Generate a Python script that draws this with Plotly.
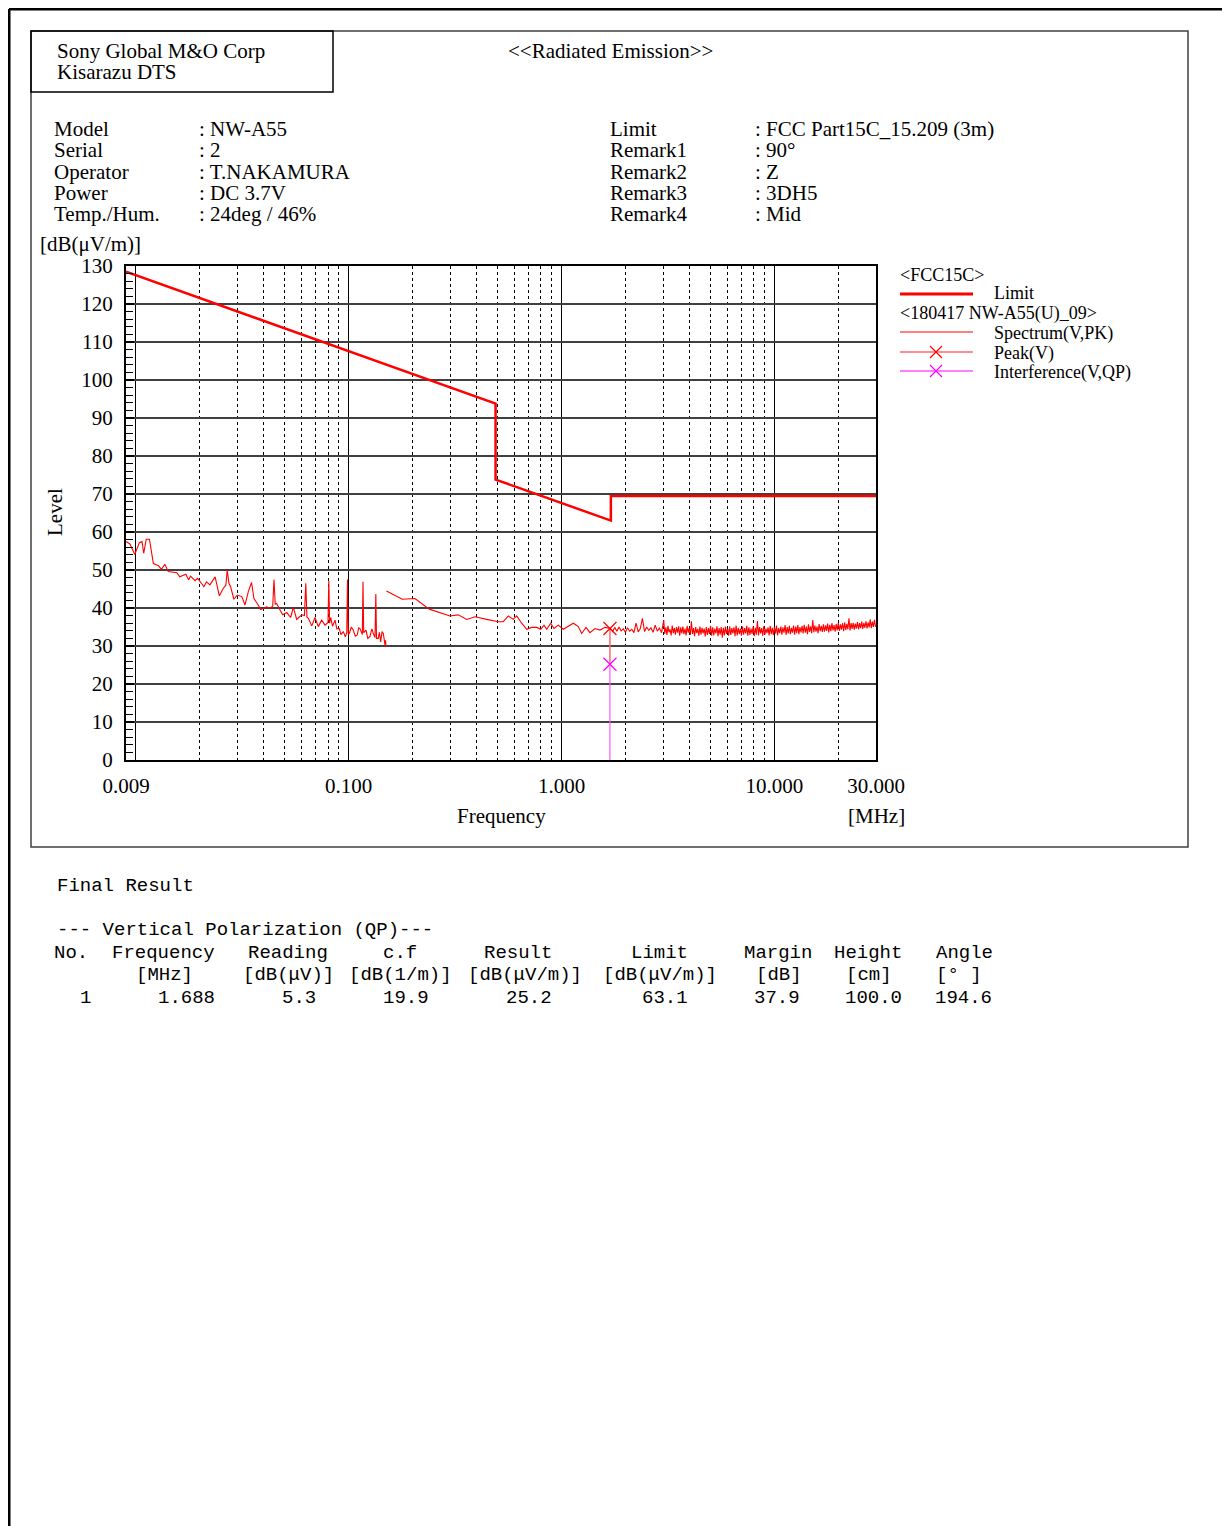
"""Radiated emission report page (9 kHz - 30 MHz, vertical polarization)."""

import math

import plotly.graph_objects as go

# ---- data -------------------------------------------------------------------

# FCC Part 15C 15.209 (3m) limit, MHz / dB(uV/m)
limit_freq = [0.009, 0.490, 0.490, 1.705, 1.705, 30.0]
limit_level = [128.5, 93.8, 73.8, 63.0, 69.5, 69.5]

# spectrum (V, PK), loop antenna range 9 kHz - 150 kHz
spec_a_freq = [
    0.0090, 0.0094, 0.0099, 0.0104, 0.0107, 0.0109, 0.0112, 0.0116, 0.0121, 0.0128,
    0.0132, 0.0137, 0.0142, 0.0156, 0.0161, 0.0172, 0.0177, 0.0181, 0.0190, 0.0195,
    0.0200, 0.0209, 0.0215, 0.0223, 0.0236, 0.0247, 0.0258, 0.0265, 0.0269, 0.0274,
    0.0279, 0.0289, 0.0300, 0.0315, 0.0326, 0.0338, 0.0350, 0.0359, 0.0376, 0.0386,
    0.0412, 0.0427, 0.0440, 0.0446, 0.0452, 0.0459, 0.0476, 0.0490, 0.0512, 0.0534,
    0.0550, 0.0570, 0.0602, 0.0620, 0.0629, 0.0637, 0.0647, 0.0671, 0.0695, 0.0720,
    0.0747, 0.0775, 0.0800, 0.0807, 0.0814, 0.0824, 0.0840, 0.0863, 0.0880, 0.0904,
    0.0920, 0.0944, 0.0965, 0.0980, 0.0988, 0.0996, 0.1007, 0.1030, 0.1051, 0.1075,
    0.1098, 0.1115, 0.1130, 0.1160, 0.1168, 0.1177, 0.1207, 0.1230, 0.1260, 0.1285,
    0.1306, 0.1330, 0.1342, 0.1352, 0.1378, 0.1395, 0.1414, 0.1435, 0.1455, 0.1470,
    0.1482, 0.1490, 0.1498,
]
spec_a_level = [
    57.5, 56.8, 54.1, 57.2, 57.5, 54.4, 58.1, 58.1, 51.7, 51.1,
    50.2, 51.5, 49.6, 49.3, 48.2, 48.9, 47.4, 48.4, 47.2, 47.8,
    47.1, 45.6, 46.9, 46.1, 48.2, 43.2, 45.2, 46.0, 50.0, 46.5,
    45.6, 42.3, 43.4, 43.0, 40.8, 44.3, 46.7, 42.5, 40.8, 39.6,
    40.3, 39.9, 40.5, 47.5, 41.0, 41.2, 39.5, 38.2, 38.8, 37.5,
    40.2, 37.0, 38.2, 38.0, 46.5, 37.6, 37.3, 35.3, 37.5, 35.1,
    36.8, 35.5, 36.2, 47.1, 36.0, 37.5, 35.2, 36.8, 34.5, 34.6,
    33.0, 33.8, 32.4, 33.5, 47.5, 33.0, 33.3, 35.0, 34.2, 32.6,
    32.9, 34.8, 34.6, 33.0, 46.9, 33.5, 34.2, 32.0, 32.5, 34.5,
    33.3, 32.2, 43.7, 32.0, 32.0, 33.6, 31.1, 33.8, 33.3, 30.8,
    30.3, 31.5, 29.7,
]

# spectrum (V, PK), 150 kHz - 3 MHz
spec_b_freq = [
    0.1505, 0.1786, 0.2049, 0.2392, 0.2992, 0.3273, 0.3585, 0.3922, 0.4451, 0.5045,
    0.5326, 0.5622, 0.5935, 0.6157, 0.6499, 0.6861, 0.7242, 0.7645, 0.7983, 0.8273,
    0.8518, 0.8892, 0.9215, 0.9654, 1.019, 1.076, 1.136, 1.199, 1.243, 1.303,
    1.360, 1.436, 1.516, 1.600, 1.676,
    1.698, 1.738, 1.778, 1.820, 1.862, 1.905, 1.950, 1.995, 2.042, 2.089,
    2.138, 2.188, 2.239, 2.291, 2.344, 2.399, 2.455, 2.512, 2.570, 2.630,
    2.692, 2.754, 2.818, 2.884, 2.951,
]
spec_b_level = [
    44.5, 42.3, 42.5, 39.7, 37.9, 38.2, 37.0, 37.7, 37.0, 36.4,
    36.4, 37.9, 37.0, 37.9, 36.0, 34.4, 34.9, 34.9, 34.4, 35.5,
    34.4, 36.0, 34.6, 35.5, 34.4, 35.1, 36.0, 35.1, 33.3, 34.9,
    33.5, 34.6, 34.2, 34.9, 34.6,
    34.6, 33.8, 34.9, 33.9, 35.0, 34.0, 34.5, 33.6, 34.8, 33.9,
    34.4, 33.5, 36.0, 33.7, 34.6, 37.3, 33.8, 35.0, 34.1, 34.8,
    33.6, 35.5, 33.9, 34.7, 33.5,
]

# spectrum (V, PK), 3 MHz - 30 MHz (dense noise floor)
spec_c_freq = [
    3.020, 3.055, 3.090, 3.126, 3.162, 3.199, 3.236, 3.273, 3.311, 3.350,
    3.388, 3.428, 3.467, 3.508, 3.548, 3.589, 3.631, 3.673, 3.715, 3.758,
    3.802, 3.846, 3.890, 3.936, 3.981, 4.027, 4.074, 4.121, 4.169, 4.217,
    4.266, 4.315, 4.365, 4.416, 4.467, 4.519, 4.571, 4.624, 4.677, 4.732,
    4.786, 4.842, 4.898, 4.955, 5.012, 5.070, 5.129, 5.188, 5.248, 5.309,
    5.370, 5.433, 5.495, 5.559, 5.623, 5.689, 5.754, 5.821, 5.888, 5.957,
    6.026, 6.095, 6.166, 6.237, 6.310, 6.383, 6.457, 6.531, 6.607, 6.683,
    6.761, 6.839, 6.918, 6.998, 7.079, 7.161, 7.244, 7.328, 7.413, 7.499,
    7.586, 7.674, 7.762, 7.852, 7.943, 8.035, 8.128, 8.222, 8.318, 8.414,
    8.511, 8.610, 8.710, 8.810, 8.913, 9.016, 9.120, 9.226, 9.333, 9.441,
    9.550, 9.661, 9.772, 9.886, 10.00, 10.12, 10.23, 10.35, 10.47, 10.59,
    10.72, 10.84, 10.96, 11.09, 11.22, 11.35, 11.48, 11.61, 11.75, 11.88,
    12.02, 12.16, 12.30, 12.44, 12.59, 12.73, 12.88, 13.03, 13.18, 13.33,
    13.49, 13.64, 13.80, 13.96, 14.13, 14.29, 14.45, 14.62, 14.79, 14.96,
    15.14, 15.31, 15.49, 15.67, 15.85, 16.03, 16.22, 16.41, 16.60, 16.79,
    16.98, 17.18, 17.38, 17.58, 17.78, 17.99, 18.20, 18.41, 18.62, 18.84,
    19.05, 19.28, 19.50, 19.72, 19.95, 20.18, 20.42, 20.65, 20.89, 21.14,
    21.38, 21.63, 21.88, 22.13, 22.39, 22.65, 22.91, 23.17, 23.44, 23.71,
    23.99, 24.27, 24.55, 24.83, 25.12, 25.41, 25.70, 26.00, 26.30, 26.61,
    26.92, 27.23, 27.54, 27.86, 28.18, 28.51, 28.84, 29.17, 29.51, 29.85,
    30.00,
]
spec_c_level = [
    36.8, 33.2, 34.9, 32.9, 35.3, 33.6, 34.4, 32.8, 35.4, 33.4,
    34.7, 33.0, 35.0, 33.5, 35.2, 32.7, 34.9, 33.3, 35.1, 33.1,
    34.6, 32.8, 35.3, 33.5, 34.8, 32.9, 36.5, 33.2, 34.7, 32.6,
    35.0, 33.4, 34.5, 32.7, 35.1, 33.0, 34.8, 33.3, 34.6, 32.5,
    35.0, 32.9, 34.7, 33.2, 35.3, 32.7, 34.9, 32.8, 34.6, 33.3,
    35.2, 32.6, 34.7, 33.0, 35.0, 32.2, 34.8, 32.8, 35.1, 33.2,
    34.5, 32.7, 35.2, 32.9, 34.7, 33.3, 34.9, 32.6, 35.4, 32.8,
    34.8, 33.1, 34.6, 32.7, 35.1, 33.0, 34.7, 33.3, 35.3, 32.7,
    34.9, 32.9, 34.6, 33.2, 35.1, 32.6, 34.8, 33.0, 36.6, 32.8,
    35.0, 33.3, 34.7, 32.7, 35.2, 33.0, 34.6, 33.4, 34.9, 32.8,
    35.3, 33.1, 34.8, 32.9, 35.0, 33.3, 35.4, 32.8, 34.7, 33.4,
    35.1, 33.0, 34.9, 33.5, 35.5, 32.9, 35.0, 33.3, 35.3, 33.1,
    34.8, 33.5, 35.4, 33.0, 35.1, 33.4, 35.5, 33.1, 35.0, 33.6,
    35.3, 33.3, 35.6, 33.5, 35.1, 33.1, 35.7, 33.7, 35.2, 33.4,
    36.8, 33.6, 35.4, 33.8, 35.1, 33.4, 35.8, 33.9, 35.3, 33.7,
    35.7, 33.8, 35.4, 34.0, 35.9, 33.6, 35.6, 33.9, 36.0, 34.1,
    35.5, 33.8, 35.8, 34.1, 36.1, 34.0, 35.7, 34.3, 36.0, 33.9,
    36.2, 34.2, 35.8, 34.4, 37.3, 34.1, 36.0, 34.5, 36.1, 34.3,
    35.9, 34.6, 36.3, 34.4, 36.0, 34.7, 36.4, 34.5, 36.1, 34.8,
    36.5, 34.6, 36.2, 34.9, 37.0, 34.7, 36.4, 35.0, 36.9, 35.1,
    35.6,
]

# final result (QP)
qp_no = [1]
qp_freq = [1.688]
qp_reading = [5.3]
qp_cf = [19.9]
qp_result = [25.2]
qp_limit = [63.1]
qp_margin = [37.9]
qp_height = [100.0]
qp_angle = [194.6]
peak_level = [34.6]

x_tick_vals = [0.009, 0.01, 0.1, 1, 10, 30]
x_tick_text = ["0.009", "", "0.100", "1.000", "10.000", "30.000"]
x_minor_vals = [m * d for d in (0.01, 0.1, 1.0) for m in range(2, 10)] + [20.0]

# ---- page geometry ------------------------------------------------------------

OFF = 8  # page body margin of the html document
W, H = 1230 - OFF, 1526 - OFF
SERIF = "Liberation Serif"
MONO = "Liberation Mono"


def px(x):
    return (x - OFF) / W


def py(y):
    return 1 - (y - OFF) / H


annotations = []


def text(x, y, s, anchor="left", size=21, family=SERIF, angle=0):
    # annotation boxes carry a little padding; nudge so glyphs land on x
    nudge = {"left": -2, "right": 2, "center": 0}[anchor]
    annotations.append(
        dict(
            x=px(x + nudge), y=py(y), xref="paper", yref="paper", text=s,
            showarrow=False, xanchor=anchor, yanchor="middle", textangle=angle,
            font=dict(family=family, size=size, color="black"),
        )
    )


shapes = []


def line(x0, y0, x1, y1, color="black", width=1.5):
    shapes.append(
        dict(type="line", xref="paper", yref="paper", x0=px(x0), y0=py(y0),
             x1=px(x1), y1=py(y1), line=dict(color=color, width=width))
    )


def cross(xc, yc, color, r=6):
    shapes.append(
        dict(
            type="path", xref="paper", yref="paper",
            path=(f"M {px(xc - r)} {py(yc - r)} L {px(xc + r)} {py(yc + r)} "
                  f"M {px(xc - r)} {py(yc + r)} L {px(xc + r)} {py(yc - r)}"),
            line=dict(color=color, width=1.2),
        )
    )


# frames
line(9, 9, 1240, 9, width=3)
line(9, 9, 9, 1540, width=3)
shapes.append(dict(type="rect", xref="paper", yref="paper", x0=px(31), y0=py(31),
                   x1=px(1188), y1=py(847), line=dict(color="#404040", width=1.5)))
shapes.append(dict(type="rect", xref="paper", yref="paper", x0=px(31), y0=py(31),
                   x1=px(333), y1=py(92), line=dict(color="black", width=1.5)))

# header
text(57, 51, "Sony Global M&amp;O Corp")
text(57, 72, "Kisarazu DTS")
text(610, 51, "&lt;&lt;Radiated Emission&gt;&gt;", anchor="center")

left_info = [("Model", ": NW-A55"), ("Serial", ": 2"), ("Operator", ": T.NAKAMURA"),
             ("Power", ": DC 3.7V"), ("Temp./Hum.", ": 24deg / 46%")]
right_info = [("Limit", ": FCC Part15C_15.209 (3m)"), ("Remark1", ": 90°"),
              ("Remark2", ": Z"), ("Remark3", ": 3DH5"), ("Remark4", ": Mid")]
for i, (k, v) in enumerate(left_info):
    text(54, 129 + 21.3 * i, k)
    text(199, 129 + 21.3 * i, v)
for i, (k, v) in enumerate(right_info):
    text(610, 129 + 21.3 * i, k)
    text(755, 129 + 21.3 * i, v)

# axis titles
text(40, 244, "[dB(μV/m)]")
text(55, 512, "Level", anchor="center", angle=-90)
text(501, 816, "Frequency", anchor="center")
text(876, 816, "[MHz]", anchor="center")

# legend
text(900, 275, "&lt;FCC15C&gt;", size=18)
line(900, 294, 973, 294, color="#ff0000", width=3)
text(994, 293, "Limit", size=18)
text(900, 314, "&lt;180417 NW-A55(U)_09&gt;", size=18)
line(900, 332, 973, 332, color="#ff0000", width=1)
text(994, 334, "Spectrum(V,PK)", size=18)
line(900, 352, 973, 352, color="#ff6a6a", width=1.5)
cross(936, 352, "#ff0000")
text(994, 353, "Peak(V)", size=18)
line(900, 371, 973, 371, color="#ff55ff", width=1.5)
cross(936, 371, "#ff00ff")
text(994, 372, "Interference(V,QP)", size=18)

# final result table
text(57, 886, "Final Result", family=MONO, size=19)
text(57, 930, "--- Vertical Polarization (QP)---", family=MONO, size=19)
head = [(71, "No."), (163, "Frequency"), (288, "Reading"), (400, "c.f"),
        (518, "Result"), (659, "Limit"), (778, "Margin"), (868, "Height"), (964, "Angle")]
units = [(164, "[MHz]"), (288, "[dB(μV)]"), (400, "[dB(1/m)]"), (525, "[dB(μV/m)]"),
         (660, "[dB(μV/m)]"), (779, "[dB]"), (869, "[cm]"), (959, "[° ]")]
for x, s in head:
    text(x, 953, s, anchor="center", family=MONO, size=19)
for x, s in units:
    text(x, 975, s, anchor="center", family=MONO, size=19)
for r in range(len(qp_freq)):
    y = 998 + 23 * r
    text(85, y, str(qp_no[r]), anchor="center", family=MONO, size=19)
    cols = [(215, f"{qp_freq[r]:.3f}"), (316, f"{qp_reading[r]:.1f}"),
            (429, f"{qp_cf[r]:.1f}"), (552, f"{qp_result[r]:.1f}"),
            (688, f"{qp_limit[r]:.1f}"), (800, f"{qp_margin[r]:.1f}"),
            (902, f"{qp_height[r]:.1f}"), (992, f"{qp_angle[r]:.1f}")]
    for x, s in cols:
        text(x, y, s, anchor="right", family=MONO, size=19)

# ---- traces -------------------------------------------------------------------

fig = go.Figure()
fig.add_trace(go.Scatter(x=limit_freq, y=limit_level, mode="lines",
                         line=dict(color="#ff0000", width=2.5)))
fig.add_trace(go.Scatter(x=spec_a_freq + [None] + spec_b_freq + spec_c_freq,
                         y=spec_a_level + [None] + spec_b_level + spec_c_level,
                         mode="lines", line=dict(color="#ff0000", width=1.1)))
for f, pk, res in zip(qp_freq, peak_level, qp_result):
    fig.add_trace(go.Scatter(x=[f, f], y=[pk, res], mode="lines",
                             line=dict(color="#ff6a6a", width=1.5)))
    fig.add_trace(go.Scatter(x=[f, f], y=[res, 0], mode="lines",
                             line=dict(color="#ff55ff", width=1.2)))
fig.add_trace(go.Scatter(x=qp_freq, y=peak_level, mode="markers",
                         marker=dict(symbol="x-thin-open", size=13, color="#ff0000",
                                     line=dict(color="#ff0000", width=1.2))))
fig.add_trace(go.Scatter(x=qp_freq, y=qp_result, mode="markers",
                         marker=dict(symbol="x-thin-open", size=13, color="#ff00ff",
                                     line=dict(color="#ff00ff", width=1.2))))

fig.update_layout(
    template="none",
    width=W, height=H,
    margin=dict(l=0, r=0, t=0, b=0, pad=0, autoexpand=False),
    paper_bgcolor="white", plot_bgcolor="white",
    showlegend=False,
    font=dict(family=SERIF, size=21, color="black"),
    xaxis=dict(
        type="log", domain=[px(126), px(876)], automargin=False,
        range=[math.log10(0.009), math.log10(30)],
        tickmode="array", tickvals=x_tick_vals, ticktext=x_tick_text,
        ticks="", showgrid=True, gridcolor="black", gridwidth=1.2,
        minor=dict(tickmode="array", tickvals=x_minor_vals, showgrid=True,
                   gridcolor="black", gridwidth=1, griddash="dot", ticks=""),
        showline=True, mirror=True, linecolor="black", linewidth=2,
        zeroline=False, ticklabelstandoff=6,
        tickfont=dict(family=SERIF, size=21),
    ),
    yaxis=dict(
        domain=[py(760), py(266)], range=[0, 130], dtick=10, automargin=False,
        showgrid=True, gridcolor="#404040", gridwidth=1.5,
        ticks="inside", ticklen=8, tickwidth=1.5, tickcolor="black",
        minor=dict(dtick=2, ticks="inside", ticklen=7, tickcolor="black",
                   tickwidth=1.2, showgrid=False),
        showline=True, mirror=True, linecolor="black", linewidth=2,
        zeroline=False, ticklabelstandoff=7,
        tickfont=dict(family=SERIF, size=21),
    ),
    shapes=shapes,
    annotations=annotations,
)

fig.write_html("out.html")
